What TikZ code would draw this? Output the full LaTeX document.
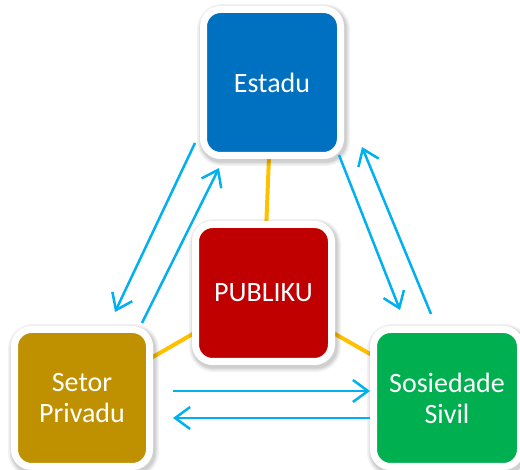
\documentclass[tikz,border=0pt]{standalone}
\usepackage{fontspec}
\setmainfont{Carlito}
\usetikzlibrary{arrows.meta,backgrounds}
\definecolor{estaducolor}{HTML}{0070C0}
\definecolor{publikucolor}{HTML}{C00000}
\definecolor{setorcolor}{HTML}{BF9000}
\definecolor{sivilcolor}{HTML}{00B050}
\definecolor{linkyellow}{HTML}{FFC000}
\definecolor{flowblue}{HTML}{00B0F0}

\begin{document}
\begin{tikzpicture}[x=1pt,y=-1pt,
        halo/.style={preaction={draw=black,opacity=0.05,line width=#1,
            transform canvas={xshift=1.5pt,yshift=-2.5pt}}},
        actor/.style={draw=white,line width=7pt,rounded corners=17pt,text=white,
            align=center,inner sep=0pt,font=\fontsize{28}{31}\selectfont,
            halo=16pt,halo=13pt,halo=11pt,halo=9pt},
        link/.style={line width=4pt,color=linkyellow},
        flow/.style={-{Straight Barb[length=15pt,width=22pt]},line width=2.5pt,color=flowblue}]
        \useasboundingbox (0,0) rectangle (520,470);
        \node[actor,fill=estaducolor,minimum width=137pt,minimum height=146pt] (estadu) at (272,82.5) {Estadu};
        \node[actor,fill=publikucolor,minimum width=136pt,minimum height=137pt] (publiku) at (263.5,293) {PUBLIKU};
        \node[actor,fill=setorcolor,minimum width=135pt,minimum height=137pt] (setor) at (82,398) {Setor\\Privadu};
        \node[actor,fill=sivilcolor,minimum width=147pt,minimum height=137pt] (sivil) at (447,398) {Sosiedade\\Sivil};
        \begin{scope}[on background layer]
            \draw[link] (estadu.center) -- (publiku.center);
            \draw[link] (publiku.center) -- (setor.center);
            \draw[link] (publiku.center) -- (sivil.center);
        \end{scope}
        % ends of the flows
        \coordinate (es1) at (195,143);
        \coordinate (es2) at (219,168);
        \coordinate (es3) at (339,155);
        \coordinate (es4) at (362,147);
        \coordinate (se1) at (115,312);
        \coordinate (se2) at (142,323);
        \coordinate (se3) at (173,391);
        \coordinate (se4) at (173,418);
        \coordinate (si1) at (400,310);
        \coordinate (si2) at (431,314);
        \coordinate (si3) at (370,391);
        \coordinate (si4) at (370,418);
        \draw[flow] (es1) -- (se1);
        \draw[flow] (se2) -- (es2);
        \draw[flow] (es3) -- (si1);
        \draw[flow] (si2) -- (es4);
        \draw[flow] (se3) -- (si3);
        \draw[flow] (si4) -- (se4);
    \end{tikzpicture}
\end{document}
